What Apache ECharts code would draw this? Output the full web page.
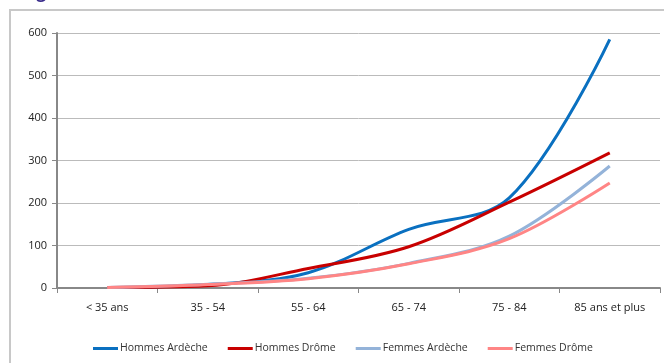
<!DOCTYPE html>
<html>
<head>
<meta charset="utf-8">
<script src="https://cdn.jsdelivr.net/npm/echarts@6/dist/echarts.min.js"></script>
<style>
html,body{margin:0;padding:0;background:#fff;}
#c{width:664px;height:363px;}
</style>
</head>
<body>
<div id="c"></div>
<script>
const categories = ['< 35 ans', '35 - 54', '55 - 64', '65 - 74', '75 - 84', '85 ans et plus'];
const hommesArdeche = [1, 8, 36, 138, 212, 585];
const hommesDrome = [1, 5, 46, 97, 202, 318];
const femmesArdeche = [1, 9, 23, 58, 122, 287];
const femmesDrome = [1, 8, 22, 57, 116, 247];
const yTicks = [0, 100, 200, 300, 400, 500, 600];

const chart = echarts.init(document.getElementById('c'), null, {renderer: 'canvas'});
const font = '"Open Sans", "Liberation Sans", sans-serif';
function mk(name, data, color) {
  return {
    name: name, type: 'line', data: data, smooth: 0.35, symbol: 'none',
    lineStyle: {color: color, width: 3}, itemStyle: {color: color}
  };
}
chart.setOption({
  animation: false,
  graphic: [
    {type: 'rect', shape: {x: 10, y: 10, width: 700, height: 400},
     style: {fill: null, stroke: '#c8c8c8', lineWidth: 2}, z: -1},
    {type: 'text', left: 22, top: -15,
     style: {text: 'Figure 12 : Taux brut, Ardèche et Drôme', fill: '#3a2d8c', font: 'bold 17px ' + font}}
  ],
  grid: {left: 57, right: 4, top: 33, bottom: 75},
  legend: {
    bottom: 4, left: 88, icon: 'rect', itemWidth: 25, itemHeight: 3, itemGap: 20,
    textStyle: {fontFamily: font, fontSize: 10.5, color: '#333', padding: [0, 0, 0, -3]},
    data: ['Hommes Ardèche', 'Hommes Drôme', 'Femmes Ardèche', 'Femmes Drôme']
  },
  xAxis: {
    type: 'category', data: categories, boundaryGap: true,
    axisLine: {lineStyle: {color: '#888', width: 2}},
    axisTick: {show: true, length: 5, lineStyle: {color: '#888'}},
    axisLabel: {fontFamily: font, fontSize: 11, color: '#222', margin: 14}
  },
  yAxis: {
    type: 'value', min: yTicks[0], max: yTicks[yTicks.length - 1], interval: 100,
    axisLine: {show: true, lineStyle: {color: '#888', width: 2}},
    axisTick: {show: true, length: 5, lineStyle: {color: '#888'}},
    axisLabel: {fontFamily: font, fontSize: 11, color: '#222', margin: 10},
    splitLine: {lineStyle: {color: '#bbbbbb', width: 1}}
  },
  series: [
    mk('Hommes Ardèche', hommesArdeche, '#0a70c0'),
    mk('Hommes Drôme', hommesDrome, '#c80000'),
    mk('Femmes Ardèche', femmesArdeche, '#94b3d9'),
    mk('Femmes Drôme', femmesDrome, '#ff8585')
  ]
});
</script>
</body>
</html>
